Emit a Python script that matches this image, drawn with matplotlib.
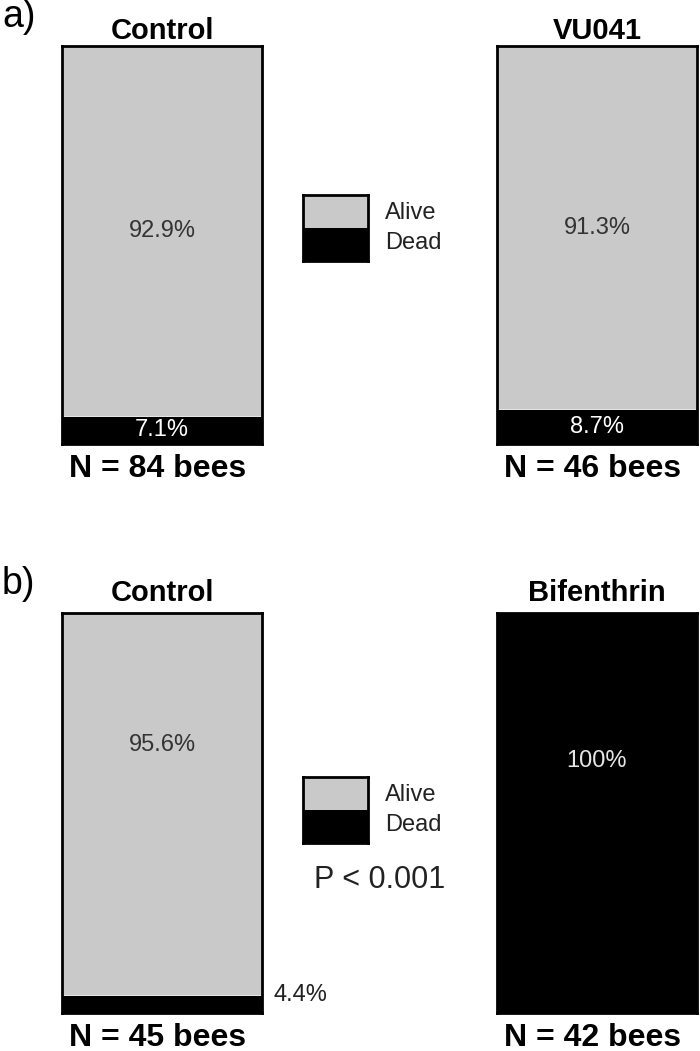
import matplotlib.pyplot as plt

# survival of bees per treatment (percent)
groups = ['Control', 'VU041', 'Control', 'Bifenthrin']
alive = [92.9, 91.3, 95.6, 0.0]
dead = [7.1, 8.7, 4.4, 100.0]
n_bees = [84, 46, 45, 42]
panel_labels = ['a)', 'b)']
p_text = 'P < 0.001'

GRAY = '#c9c9c9'
W, H = 700, 1051

plt.rcParams['font.family'] = ['Liberation Sans', 'DejaVu Sans']
fig = plt.figure(figsize=(7, 10.51), dpi=100)


def px_axes(x0, y0, x1, y1):
    # axes from pixel box (top-left origin)
    return fig.add_axes([x0 / W, 1 - y1 / H, (x1 - x0) / W, (y1 - y0) / H])


def px_text(x, y, s, **kw):
    fig.text(x / W, 1 - y / H, s, **kw)


bar_boxes = [(62, 46, 262, 444), (497, 46, 697, 444),
             (62, 613, 262, 1013), (497, 613, 697, 1013)]
title_gap = [15, 15, 20, 20]
# label heights in panel b sit above the middle of the bar
label_y = [None, None, 67, 63]

for i, (x0, y0, x1, y1) in enumerate(bar_boxes):
    ax = px_axes(x0, y0, x1, y1)
    ax.bar(0.5, dead[i], width=1, color='black')
    ax.bar(0.5, alive[i], bottom=dead[i], width=1, color=GRAY,
           edgecolor='white', linewidth=0.6)
    ax.set_xlim(0, 1)
    ax.set_ylim(0, 100)
    ax.set_xticks([])
    ax.set_yticks([])
    for s in ax.spines.values():
        s.set_linewidth(2)
    if alive[i] > 0:
        y = label_y[i] if label_y[i] else dead[i] + alive[i] / 2
        ax.text(0.5, y, f'{alive[i]:g}%', ha='center',
                va='center', fontsize=17, color='#333333')
    if dead[i] >= 50:
        y = label_y[i] if label_y[i] else dead[i] / 2
        ax.text(0.5, y, f'{dead[i]:g}%', ha='center', va='center',
                fontsize=17, color='#e6e6e6')
    elif dead[i] >= 5:
        ax.text(0.5, dead[i] / 2, f'{dead[i]:g}%', ha='center', va='center',
                fontsize=17, color='white')
    else:
        ax.text(1.055, dead[i], f'{dead[i]:g}%', transform=ax.get_yaxis_transform(),
                ha='left', va='center', fontsize=17, color='#222222')
    cx = (x0 + x1) / 2
    px_text(cx, y0 - title_gap[i], groups[i], ha='center', va='center',
            fontsize=21, fontweight='bold')
    px_text(cx - 4, y1 + 25, f'N = {n_bees[i]} bees', ha='center', va='center',
            fontsize=23, fontweight='bold')

# legends
for ly in [195, 777]:
    lax = px_axes(303, ly, 368, ly + 66)
    lax.bar(0.5, 50, width=1, color='black')
    lax.bar(0.5, 50, bottom=50, width=1, color=GRAY)
    lax.set_xlim(0, 1)
    lax.set_ylim(0, 100)
    lax.set_xticks([])
    lax.set_yticks([])
    for s in lax.spines.values():
        s.set_linewidth(2)
    px_text(385, ly + 18, 'Alive', ha='left', va='center', fontsize=17, color='#222222')
    px_text(385, ly + 48, 'Dead', ha='left', va='center', fontsize=17, color='#222222')

px_text(380, 880, p_text, ha='center', va='center', fontsize=22, color='#222222')

px_text(2, 17, panel_labels[0], ha='left', va='center', fontsize=27)
px_text(2, 584, panel_labels[1], ha='left', va='center', fontsize=27)

fig.savefig('out.png', dpi=100)
